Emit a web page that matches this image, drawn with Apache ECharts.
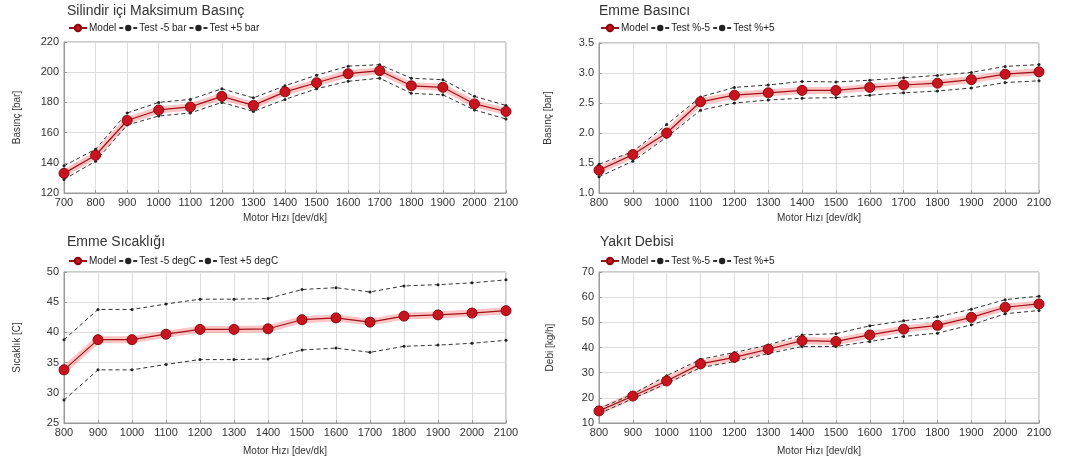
<!DOCTYPE html>
<html><head><meta charset="utf-8">
<script src="https://cdn.jsdelivr.net/npm/echarts@6/dist/echarts.min.js"></script>
<style>html,body{margin:0;padding:0;background:#fff}#c{width:1081px;height:468px}</style>
</head><body><div id="c"></div>
<script>
// ---- data ----
const speedsP = [700,800,900,1000,1100,1200,1300,1400,1500,1600,1700,1800,1900,2000,2100];
const speeds = [800,900,1000,1100,1200,1300,1400,1500,1600,1700,1800,1900,2000,2100];

const pModel = [133,145,168,175,177,184,178,187,193,199,201,191,190,179,174];
const pLo    = [129,141,165,171,173,180,174,182,189,194,196,186,185,175,169];
const pHi    = [138,149,173,180,182,189,183,191,198,204,205,196,195,184,178];

const ipModel = [1.38,1.64,2.0,2.52,2.63,2.67,2.71,2.71,2.76,2.8,2.83,2.89,2.98,3.02];
const ipLo    = [1.27,1.53,1.93,2.38,2.5,2.55,2.58,2.59,2.63,2.67,2.7,2.75,2.84,2.87];
const ipHi    = [1.48,1.69,2.14,2.6,2.76,2.8,2.86,2.85,2.88,2.92,2.96,3.01,3.11,3.14];

const tModel = [33.8,38.8,38.8,39.7,40.5,40.5,40.6,42.1,42.4,41.7,42.7,42.9,43.2,43.6];
const tLo    = [28.8,33.8,33.8,34.7,35.5,35.5,35.6,37.1,37.4,36.7,37.7,37.9,38.2,38.7];
const tHi    = [38.8,43.8,43.8,44.7,45.5,45.5,45.6,47.1,47.4,46.7,47.7,47.9,48.2,48.7];

const fModel = [14.8,20.7,26.7,33.5,36.1,39.3,42.7,42.4,45,47.3,48.8,52,56,57.3];
const fLo    = [13.7,19.7,25.7,32,34.4,37.6,40.4,40.4,42.4,44.4,45.7,49,53.4,54.7];
const fHi    = [15.7,21.5,28.8,35.3,38,41,45,45.5,48.6,50.6,52.2,55.2,59,60.4];

const titles = ['Silindir içi Maksimum Basınç','Emme Basıncı','Emme Sıcaklığı','Yakıt Debisi'];
const yNames = ['Basınç [bar]','Basınç [bar]','Sıcaklık [C]','Debi [kg/h]'];
const xName = 'Motor Hızı [dev/dk]';
const loNames = ['Test -5 bar','Test %-5','Test -5 degC','Test %-5'];
const hiNames = ['Test +5 bar','Test %+5','Test +5 degC','Test %+5'];
const yMin = [120,1.0,25,10], yMax = [220,3.5,50,70], yInt = [20,0.5,5,10];
const xMin = [700,800,800,800];

// ---- layout ----
const grids = [
  {left:64, top:42, width:442, height:151},
  {left:599, top:43, width:440, height:150},
  {left:64, top:272, width:442, height:151},
  {left:599, top:272, width:440, height:151}
];
const titleLeft = [67,599,67,600], titleTop = [4,4,235,235];
const legendLeft = [68,600,68,600], legendTop = [23,23,256,256];
const yNameGap = [42,46,42,44], xNameGap = [20,20,23,23];
const font = 'Liberation Sans, Arial, sans-serif';
const sets = [
  [speedsP,pModel,pLo,pHi],
  [speeds,ipModel,ipLo,ipHi],
  [speeds,tModel,tLo,tHi],
  [speeds,fModel,fLo,fHi]
];
const zip = (xs,ys)=>xs.map((x,i)=>[x,ys[i]]);

const option = {
  animation:false,
  backgroundColor:'#fff',
  title: grids.map((g,i)=>({text:titles[i], left:titleLeft[i], top:titleTop[i], padding:0,
    textStyle:{fontFamily:font,fontSize:14,fontWeight:'normal',color:'#333'}})),
  legend: grids.map((g,i)=>({
    left:legendLeft[i], top:legendTop[i], itemGap:2, itemWidth:18, itemHeight:8,
    textStyle:{fontFamily:font,fontSize:10,color:'#222',padding:[0,0,0,-3]},
    data:['Model',loNames[i],hiNames[i]], padding:0
  })),
  grid: grids.map(g=>Object.assign({show:true,borderColor:'#999',borderWidth:1,containLabel:false},g)),
  xAxis: grids.map((g,i)=>({
    gridIndex:i, type:'value', min:xMin[i], max:2100, interval:100,
    name:xName, nameLocation:'middle', nameGap:xNameGap[i],
    nameTextStyle:{fontFamily:font,fontSize:10,color:'#333'},
    axisLine:{show:true,lineStyle:{color:'#999'}},
    axisTick:{show:true,inside:true,length:3,lineStyle:{color:'#999'}},
    axisLabel:{fontFamily:font,fontSize:11,color:'#333',margin:4,hideOverlap:false,
      formatter:v=>String(v)},
    splitLine:{show:true,lineStyle:{color:'#ddd',width:1}}
  })),
  yAxis: grids.map((g,i)=>({
    gridIndex:i, type:'value', min:yMin[i], max:yMax[i], interval:yInt[i],
    name:yNames[i], nameLocation:'middle', nameGap:yNameGap[i], nameRotate:90,
    nameTextStyle:{fontFamily:font,fontSize:10,color:'#333'},
    axisLine:{show:true,lineStyle:{color:'#999'}},
    axisTick:{show:true,inside:true,length:3,lineStyle:{color:'#999'}},
    axisLabel:{fontFamily:font,fontSize:11,color:'#333',margin:5,
      formatter: i===1 ? (v=>v.toFixed(1)) : (v=>String(v))},
    splitLine:{show:true,lineStyle:{color:'#ddd',width:1}}
  })),
  series: []
};

sets.forEach((s,i)=>{
  const [xs,m,lo,hi] = s;
  option.series.push({
    name:'Model_halo', type:'line', xAxisIndex:i, yAxisIndex:i, data:zip(xs,m),
    symbol:'none', silent:true, z:1,
    lineStyle:{color:'rgba(255,90,90,0.35)',width:7}
  });
  option.series.push({
    name:loNames[i], type:'line', xAxisIndex:i, yAxisIndex:i, data:zip(xs,lo),
    symbol:'circle', symbolSize:3, z:3,
    itemStyle:{color:'#222'},
    lineStyle:{color:'#333',width:1,type:[4,3]}
  });
  option.series.push({
    name:hiNames[i], type:'line', xAxisIndex:i, yAxisIndex:i, data:zip(xs,hi),
    symbol:'circle', symbolSize:3, z:3,
    itemStyle:{color:'#222'},
    lineStyle:{color:'#333',width:1,type:[4,3]}
  });
  option.series.push({
    name:'Model', type:'line', xAxisIndex:i, yAxisIndex:i, data:zip(xs,m),
    symbol:'circle', symbolSize:10, z:4,
    itemStyle:{color:'#c8141e',borderColor:'#8a0a10',borderWidth:1},
    lineStyle:{color:'#a01018',width:1.2}
  });
});

const chart = echarts.init(document.getElementById('c'),null,{renderer:'canvas'});
chart.setOption(option);
</script></body></html>
